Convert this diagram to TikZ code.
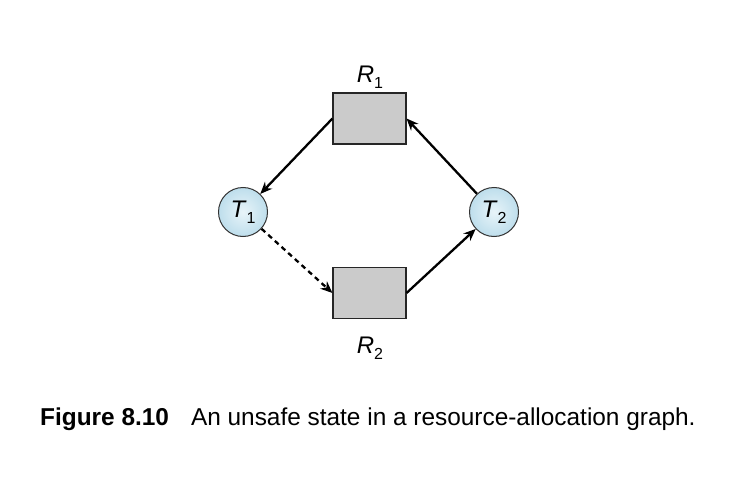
\documentclass[tikz,border=0pt]{standalone}
\usepackage{fontspec}
\setmainfont{Liberation Sans}
\usetikzlibrary{arrows.meta}

\definecolor{resgray}{RGB}{203,203,203}
\definecolor{thrblue}{RGB}{190,222,236}
\definecolor{thrlight}{RGB}{232,244,249}
\newcommand{\sublbl}[2]{\textit{#1}\raisebox{-0.5ex}{\fontsize{16}{16}\selectfont #2}}

\begin{document}
\begin{tikzpicture}[x=1pt, y=-1pt, font=\fontsize{24}{28}\selectfont,
    thread/.style={circle, draw=black!80, line width=1pt, inner color=thrlight, outer color=thrblue, minimum size=49pt, inner sep=0pt},
    resource/.style={rectangle, draw=black!85, line width=1.1pt, fill=resgray, minimum width=73pt, minimum height=51pt},
    edge/.style={line width=2.3pt, -{Stealth[length=12pt, width=10pt]}}]
    \useasboundingbox (0,0) rectangle (736,484);

    % Draw nodes
    \node[thread] (t1) at (243,212) {\sublbl{T}{1}};
    \node[thread] (t2) at (494,212) {\sublbl{T}{2}};
    \node[resource] (r1) at (369.5,118.5) {};
    \node[resource] (r2) at (369.5,293) {};

    % Draw connections
    \draw[edge] (r1.west) -- (t1);
    \draw[edge] (t2) -- (r1.east);
    \draw[edge, dashed, dash pattern=on 5pt off 4pt] (t1) -- (r2.west);
    \draw[edge] (r2.east) -- (t2);

    % Labels
    \node (r1lbl) at (370,77) {\sublbl{R}{1}};
    \node (r2lbl) at (370,348) {\sublbl{R}{2}};
    \node[anchor=base west, inner sep=0pt, font=\fontsize{24.4}{28}\selectfont] (caption) at (40,425) {\textbf{Figure 8.10}\hspace{22pt}An unsafe state in a resource-allocation graph.};
\end{tikzpicture}
\end{document}
